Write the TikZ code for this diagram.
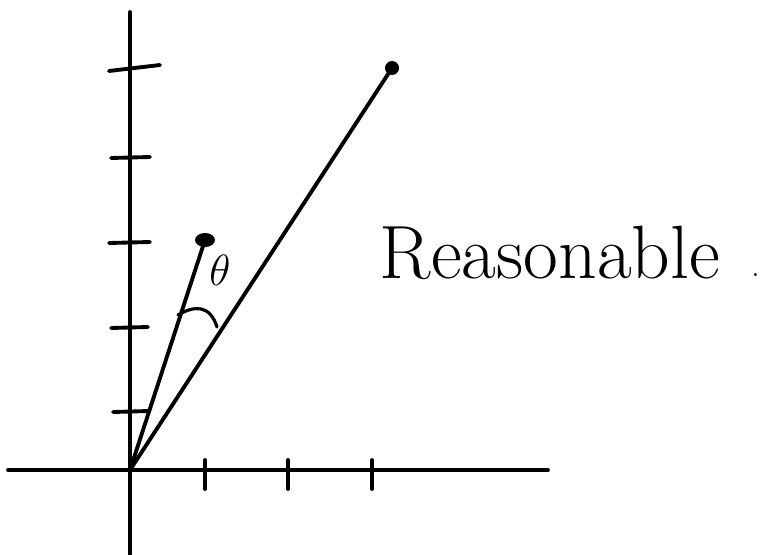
\documentclass[tikz,border=0pt]{standalone}
\usepackage{amsmath,amssymb}
\usepackage{tikz}
\usetikzlibrary{calc}

\begin{document}
\begin{tikzpicture}[x=0.02cm,y=-0.02cm,line width=2.2pt,line cap=round]

\useasboundingbox (0,0) rectangle (760,554);

% Axes
\coordinate (O) at (130,470);
\draw (8,470)--(548,470);
\draw (130,12)--(130,554);

% Ticks on x axis
\foreach \tx in {205,288,372}
  \draw (\tx,460)--(\tx,489);

% Ticks on y axis
\foreach \ty/\ta/\tb in {412/113/149,328/111/148,243/109/150,158/111/150}
  \draw (\ta,\ty)--(\tb,\ty-1);
\draw (109,71)--(160,65);

% Vectors
\coordinate (A) at (392,68);
\coordinate (B) at (205,240);
\draw (O)--(A);
\draw (O)--(B);
\fill (A) circle (7);
\fill (B) ellipse (10 and 7);

% Angle marker
\draw[line width=1.8pt] (178,315) .. controls (195,305) and (210,305) .. (217,327);
\node at (220,270) {\fontsize{32}{34}\selectfont$\theta$};

% Comment
\node[anchor=base west,inner sep=0pt] at (378,278) {\fontsize{43}{46}\selectfont Reasonable};
\node[anchor=base,inner sep=0pt] at (756,276) {\fontsize{20}{22}\selectfont .};

\end{tikzpicture}
\end{document}
